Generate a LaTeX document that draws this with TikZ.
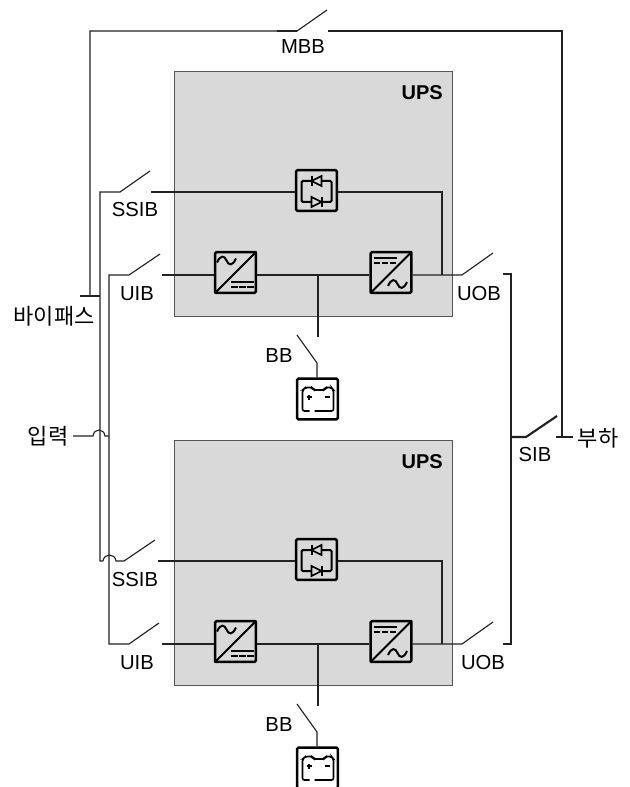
\documentclass[tikz,border=0pt]{standalone}
\usepackage{fontspec}
\setmainfont{Liberation Sans}
\newfontfamily\krfont{Noto Sans CJK KR}
\definecolor{wire}{HTML}{222222}
\definecolor{upsgray}{HTML}{D9D9D9}
\definecolor{upsedge}{HTML}{555555}
\tikzset{
  wireline/.style={draw=wire,line width=0.85pt},
  heavyline/.style={draw=wire,line width=1.6pt},
  upsbox/.style={draw=upsedge,line width=0.7pt,fill=upsgray,minimum width=208.5pt,minimum height=183.75pt,inner sep=0pt},
  iconbox/.style={draw=black,line width=1.9pt,rounded corners=1pt,minimum width=30.5pt,minimum height=30.5pt,inner sep=0pt},
  glyph/.style={draw=black,line width=1.5pt},
  fineglyph/.style={draw=black,line width=1.2pt},
  lbl/.style={font=\fontsize{15.2pt}{16pt}\selectfont,inner sep=0pt,text=black},
  klbl/.style={font=\krfont\fontsize{16.5pt}{18pt}\selectfont,inner sep=0pt,text=black},
  upslbl/.style={font=\bfseries\fontsize{15pt}{16pt}\selectfont,inner sep=0pt,text=black},
}
\newcommand{\rectglyph}[1]{%
  \begin{scope}[shift={(#1)}]
    \draw[glyph,rounded corners=1pt] (-15,-10) rectangle (15,11);
    \draw[fineglyph,fill=upsgray] (5,-15) -- (-5,-10) -- (5,-5) -- cycle;
    \draw[glyph] (-5,-15) -- (-5,-5);
    \draw[fineglyph,fill=upsgray] (-5,6) -- (5,11) -- (-5,16) -- cycle;
    \draw[glyph] (5,6) -- (5,16);
  \end{scope}}
\newcommand{\sinewave}[2]{\draw[glyph] (#1-9.5,#2+2) .. controls (#1-6,#2-6) and (#1-2,#2-5) .. (#1,#2) .. controls (#1+2,#2+5) and (#1+6,#2+6) .. (#1+9.5,#2-2);}
\newcommand{\dcmarks}[2]{%
  \draw[glyph] (#1-11.5,#2-2.5) -- (#1+11.5,#2-2.5);
  \draw[glyph,dash pattern=on 4.9pt off 1.2pt] (#1-11.5,#2+2.5) -- (#1+11.5,#2+2.5);}
\newcommand{\acdcglyph}[1]{%
  \begin{scope}[shift={(#1)}]
    \draw[glyph] (-21,21) -- (21,-21);
    \sinewave{-9}{-12}
    \dcmarks{7}{12}
  \end{scope}}
\newcommand{\dcacglyph}[1]{%
  \begin{scope}[shift={(#1)}]
    \draw[glyph] (-21,21) -- (21,-21);
    \dcmarks{-6}{-12}
    \sinewave{6.5}{11.5}
  \end{scope}}
\newcommand{\battglyph}[1]{%
  \begin{scope}[shift={(#1)}]
    \draw[fineglyph,rounded corners=1.5pt] (-8,11) -- (-15,11) -- (-15,-10) -- (-12,-12.5) -- (-5,-12.5) -- (-4,-10) -- (7,-10) -- (8,-12.5) -- (14,-12.5) -- (16,-10) -- (16,11) -- (-3,11);
    \draw[fineglyph,line width=.9pt] (-11,-3) -- (-6,-3) (-8.5,-5.5) -- (-8.5,-.5);
    \draw[fineglyph,line width=.9pt] (7,-3) -- (12,-3);
  \end{scope}}
\begin{document}
\begin{tikzpicture}[x=0.75pt,y=-0.75pt]
\clip (0,0) rectangle (630,787);
% UPS frames
\node[upsbox] (ups1) at (313,193.5) {};
\node[upsbox] (ups2) at (313,562.5) {};
\node[upslbl,anchor=east] (upsa) at (443,93) {UPS};
\node[upslbl,anchor=east] (upsb) at (443,462) {UPS};
% Icon frames
\node[iconbox,fill=upsgray] (rect1) at (316.5,190.5) {};
\node[iconbox,fill=upsgray] (conva) at (235.5,272.5) {};
\node[iconbox,fill=upsgray] (inva) at (391,272.5) {};
\node[iconbox,fill=white] (batta) at (317.5,399) {};
\node[iconbox,fill=upsgray] (rect2) at (316.5,559.5) {};
\node[iconbox,fill=upsgray] (convb) at (235.5,641.5) {};
\node[iconbox,fill=upsgray] (invb) at (391,641.5) {};
\node[iconbox,fill=white] (battb) at (317.5,768) {};
\rectglyph{316.5,191}
\rectglyph{316.5,560}
\acdcglyph{235.5,272.5}\acdcglyph{235.5,641.5}
\dcacglyph{391,272.5}\dcacglyph{391,641.5}
\battglyph{317.5,400}\battglyph{317.5,769}
% Named points
\coordinate (mbbL) at (297,31); \coordinate (mbbT) at (327,10); \coordinate (mbbR) at (328,31);
\coordinate (byTop) at (90,31); \coordinate (byTick) at (90,296);
\coordinate (byL) at (80,296); \coordinate (byR) at (100,296);
\coordinate (ssA) at (100,192); \coordinate (ssAh) at (120,192); \coordinate (ssAt) at (150,171); \coordinate (ssAr) at (151,192);
\coordinate (uiA) at (109,275); \coordinate (uiAh) at (129,275); \coordinate (uiAt) at (160,254); \coordinate (uiAr) at (162,275);
\coordinate (ssB) at (100,561); \coordinate (ssBh) at (124,561); \coordinate (ssBt) at (155,540); \coordinate (ssBr) at (158,561);
\coordinate (uiB) at (109,644); \coordinate (uiBh) at (129,644); \coordinate (uiBt) at (159,623); \coordinate (uiBr) at (162,644);
\coordinate (uoA) at (462,275); \coordinate (uoAt) at (493,253); \coordinate (uoB) at (462,644); \coordinate (uoBt) at (493,622);
\coordinate (jA) at (442,275); \coordinate (jB) at (442,644);
\coordinate (tapA) at (318,275); \coordinate (tapAe) at (318,337); \coordinate (tapB) at (318,644); \coordinate (tapBe) at (318,706);
\coordinate (bbAt) at (297,335); \coordinate (bbAh) at (317,363); \coordinate (bbBt) at (297,704); \coordinate (bbBh) at (317,732);
\coordinate (busT) at (503,274); \coordinate (busTc) at (511,274); \coordinate (busB) at (503,644); \coordinate (busBc) at (511,644);
\coordinate (sibL) at (511,437); \coordinate (sibH) at (526,437); \coordinate (sibT) at (557,416);
\coordinate (lodL) at (556,437); \coordinate (lodR) at (573,437); \coordinate (lodC) at (562,437); \coordinate (mbbC) at (562,31);
\coordinate (inL) at (73,436); \coordinate (inA) at (93,436); \coordinate (inB) at (105,436); \coordinate (inC) at (109,436);
\coordinate (hA) at (103,561); \coordinate (hB) at (116,561);
% Wires
\draw[wireline] (byTick) -- (byTop) -- (mbbL) -- (mbbT);
\draw[heavyline] (277,31) -- (mbbL);
\draw[wireline] (mbbR) -- (mbbC) -- (lodC);
\draw[wireline] (byL) -- (byR);
\draw[wireline] (ssAt) -- (ssAh) -- (ssA) -- (ssB) -- (hA);
\draw[wireline] (hA) .. controls (104,553) and (115,553) .. (hB) -- (ssBh) -- (ssBt);
\draw[wireline] (uiAt) -- (uiAh) -- (uiA) -- (uiB) -- (uiBh) -- (uiBt);
\draw[wireline] (inL) -- (inA) .. controls (94,428) and (104,428) .. (inB) -- (inC);
\draw[wireline] (ssAr) -- (rect1.west |- ssAr);
\draw[wireline] (rect1.east |- ssAr) -| (jA);
\draw[wireline] (uiAr) -- (conva.west |- uiAr);
\draw[wireline] (conva.east |- uiAr) -- (inva.west |- uiAr);
\draw[wireline] (inva.east |- uiAr) -- (uoA) -- (uoAt);
\draw[wireline] (tapA) -- (tapAe);
\draw[wireline] (bbAt) -- (bbAh) -- (bbAh |- batta.north);
\draw[wireline] (ssBr) -- (rect2.west |- ssBr);
\draw[wireline] (rect2.east |- ssBr) -| (jB);
\draw[wireline] (uiBr) -- (convb.west |- uiBr);
\draw[wireline] (convb.east |- uiBr) -- (invb.west |- uiBr);
\draw[wireline] (invb.east |- uiBr) -- (uoB) -- (uoBt);
\draw[wireline] (tapB) -- (tapBe);
\draw[wireline] (bbBt) -- (bbBh) -- (bbBh |- battb.north);
\draw[wireline] (busT) -- (busTc) -- (busBc) -- (busB);
\draw[heavyline] (sibL) -- (sibH) -- (sibT);
\draw[wireline] (lodL) -- (lodR);
% Labels
\node[lbl] (lmbb) at (303,47) {MBB};
\node[lbl] (lssa) at (135,210) {SSIB};
\node[lbl] (luia) at (137,294) {UIB};
\node[lbl] (lbba) at (279,356) {BB};
\node[lbl] (luoa) at (479,294) {UOB};
\node[lbl] (lsib) at (535,455) {SIB};
\node[lbl] (lssb) at (135,580) {SSIB};
\node[lbl] (luib) at (137,663) {UIB};
\node[lbl] (lbbb) at (279,725) {BB};
\node[lbl] (luob) at (483,663) {UOB};
\node[klbl] (lby) at (54,316) {바이패스};
\node[klbl] (lin) at (48,436) {입력};
\node[klbl] (lod) at (598,438) {부하};
\end{tikzpicture}
\end{document}
